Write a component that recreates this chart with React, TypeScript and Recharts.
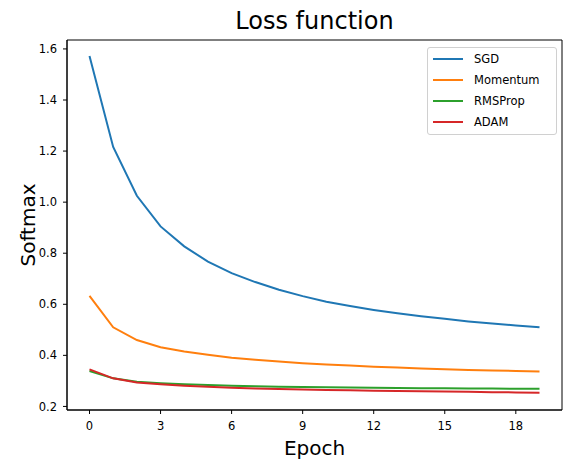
import React from 'react';
import { LineChart, Line, XAxis, YAxis, ReferenceArea } from 'recharts';

const epochs = [0, 1, 2, 3, 4, 5, 6, 7, 8, 9, 10, 11, 12, 13, 14, 15, 16, 17, 18, 19];
const sgd = [1.572, 1.216, 1.025, 0.905, 0.827, 0.767, 0.722, 0.687, 0.657, 0.632, 0.61, 0.593, 0.578, 0.565, 0.553, 0.543, 0.533, 0.525, 0.517, 0.51];
const momentum = [0.633, 0.51, 0.46, 0.432, 0.415, 0.402, 0.391, 0.383, 0.376, 0.369, 0.364, 0.36, 0.355, 0.352, 0.349, 0.346, 0.343, 0.341, 0.339, 0.337];
const rmsprop = [0.339, 0.31, 0.297, 0.291, 0.287, 0.284, 0.281, 0.279, 0.277, 0.276, 0.275, 0.274, 0.273, 0.272, 0.271, 0.271, 0.27, 0.27, 0.269, 0.269];
const adam = [0.345, 0.31, 0.294, 0.287, 0.281, 0.277, 0.273, 0.27, 0.268, 0.266, 0.264, 0.263, 0.261, 0.26, 0.259, 0.258, 0.257, 0.256, 0.255, 0.254];
const xTicks = [0, 3, 6, 9, 12, 15, 18];
const yTicks = [0.2, 0.4, 0.6, 0.8, 1.0, 1.2, 1.4, 1.6];

const SERIES = [
  { key: 'SGD', color: '#1f77b4' },
  { key: 'Momentum', color: '#ff7f0e' },
  { key: 'RMSProp', color: '#2ca02c' },
  { key: 'ADAM', color: '#d62728' },
];

const data = epochs.map((e, i) => ({
  epoch: e,
  SGD: sgd[i],
  Momentum: momentum[i],
  RMSProp: rmsprop[i],
  ADAM: adam[i],
}));

const X_DOMAIN: [number, number] = [-0.95, 19.95];
const Y_DOMAIN: [number, number] = [0.186, 1.635];
const FONT = '"DejaVu Sans", sans-serif';

// legend drawn as an overlay so it doesn't eat into the plot area
const LegendBox = () => (
  <div
    style={{
      position: 'absolute',
      left: 427,
      top: 47,
      border: '1px solid #d0d0d0',
      borderRadius: 3,
      background: '#fff',
      width: 130,
      height: 88,
      boxSizing: 'border-box',
      paddingTop: 1,
      fontFamily: FONT,
      fontSize: 11.5,
      color: '#000',
    }}
  >
    {SERIES.map((s) => (
      <div key={s.key} style={{ display: 'flex', alignItems: 'center', height: 20.8 }}>
        <span style={{ display: 'inline-block', width: 30, height: 2, background: s.color, marginLeft: 5, marginRight: 11 }} />
        <span>{s.key}</span>
      </div>
    ))}
  </div>
);

export default function App() {
  return (
    <div style={{ position: 'absolute', left: 0, top: 0, width: 573, height: 469, background: '#fff', fontFamily: FONT }}>
      <div
        style={{
          position: 'absolute',
          left: 67,
          width: 495,
          top: 6,
          textAlign: 'center',
          fontSize: 24,
          lineHeight: '30px',
          color: '#000',
        }}
      >
        Loss function
      </div>
      <LineChart width={573} height={469} data={data} margin={{ top: 40, right: 11, left: 0, bottom: 0 }}>
        <XAxis
          dataKey="epoch"
          type="number"
          domain={X_DOMAIN}
          ticks={xTicks}
          allowDataOverflow
          height={59}
          tickSize={4}
          tickMargin={8}
          stroke="#000"
          tick={{ fill: '#000', fontSize: 11.5, fontFamily: FONT }}
          label={({ viewBox }: any) => (
            <text x={viewBox.x + viewBox.width / 2} y={455} textAnchor="middle" fontSize={20} fontFamily={FONT} fill="#000">
              Epoch
            </text>
          )}
        />
        <YAxis
          type="number"
          domain={Y_DOMAIN}
          ticks={yTicks}
          allowDataOverflow
          width={67}
          tickSize={4}
          tickMargin={6}
          stroke="#000"
          tickFormatter={(v: number) => v.toFixed(1)}
          tick={{ fill: '#000', fontSize: 11.5, fontFamily: FONT }}
          label={({ viewBox }: any) => (
            <text
              x={35}
              y={viewBox.y + viewBox.height / 2}
              transform={`rotate(-90, 35, ${viewBox.y + viewBox.height / 2})`}
              textAnchor="middle"
              fontSize={20}
              fontFamily={FONT}
              fill="#000"
            >
              Softmax
            </text>
          )}
        />
        <ReferenceArea
          x1={X_DOMAIN[0]}
          x2={X_DOMAIN[1]}
          y1={Y_DOMAIN[0]}
          y2={Y_DOMAIN[1]}
          stroke="#000"
          strokeWidth={1}
          fill="none"
          fillOpacity={0}
          ifOverflow="visible"
        />
        {SERIES.map((s) => (
          <Line
            key={s.key}
            dataKey={s.key}
            stroke={s.color}
            strokeWidth={2}
            dot={false}
            type="linear"
            isAnimationActive={false}
          />
        ))}
      </LineChart>
      <LegendBox />
    </div>
  );
}
